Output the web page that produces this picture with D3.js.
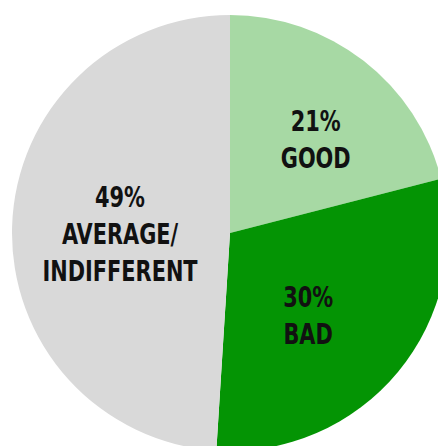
<!DOCTYPE html>
<html>
<head>
<meta charset="utf-8">
<script src="https://cdn.jsdelivr.net/npm/d3@7"></script>
<style>
  body { margin: 0; background: #fff; }
  svg { display: block; }
  .label { font-family: "DejaVu Sans Condensed", "DejaVu Sans", sans-serif; font-weight: bold; font-size: 29px; fill: #111; }
</style>
</head>
<body>
<svg id="pie" width="438" height="446"></svg>
<script>
// Slice data, clockwise from 12 o'clock
let categories = ["GOOD", "BAD", "AVERAGE/INDIFFERENT"];
let values = [21, 30, 49];
let labelLines = [["21%", "GOOD"], ["30%", "BAD"], ["49%", "AVERAGE/", "INDIFFERENT"]];
let colors = ["#a7d9a4", "#049404", "#d9d9d9"];

let svg = d3.select("#pie");
let radius = 218;

let g = svg.append("g").attr("transform", "translate(230,233)");

let pie = d3.pie().sort(null).value(d => d);
let arc = d3.arc().innerRadius(0).outerRadius(radius);
let labelArc = d3.arc().innerRadius(0).outerRadius(234);  // centroid sits at r=117

let arcs = pie(values);

g.selectAll("path")
    .data(arcs)
    .enter().append("path")
    .attr("d", arc)
    .attr("fill", (d, i) => colors[i]);

// small hand nudges so labels sit where the original put them
let nudge = [[14, -1], [-12, 8], [7, 5]];
let lineH = 37;

arcs.forEach((d, i) => {
    let c = labelArc.centroid(d);
    let lines = labelLines[i];
    let x = c[0] + nudge[i][0];
    let y = c[1] + nudge[i][1];
    let t = g.append("g")
        .attr("transform", `translate(${x},${y}) scale(0.8,1)`)
        .append("text")
        .attr("class", "label")
        .attr("text-anchor", "middle");
    lines.forEach((s, j) => {
        t.append("tspan")
            .attr("x", 0)
            .attr("y", (j - (lines.length - 1) / 2) * lineH + 10)
            .text(s);
    });
});
</script>
</body>
</html>
